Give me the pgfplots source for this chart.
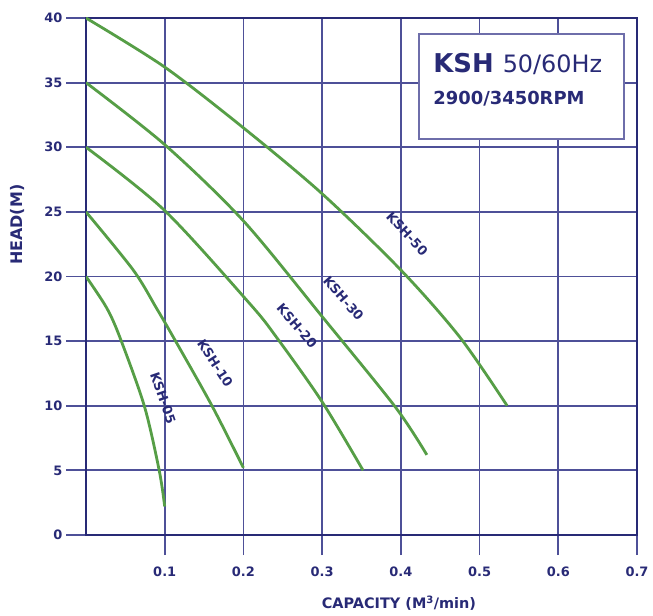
\documentclass[border=0pt]{standalone}
\usepackage{pgfplots}
\pgfplotsset{compat=1.18}
\usepackage{fontspec}
\setmainfont{DejaVu Sans}
\definecolor{navy}{RGB}{40,42,118}
\definecolor{gridc}{RGB}{78,80,152}
\definecolor{boxc}{RGB}{110,110,170}
\definecolor{curve}{RGB}{86,158,70}
\begin{document}
\begin{tikzpicture}
\begin{axis}[
    scale only axis,
    width=551bp, height=517bp,
    xmin=0, xmax=0.7, ymin=0, ymax=40,
    xtick={0.1,0.2,0.3,0.4,0.5,0.6,0.7},
    xticklabels={0.1,0.2,0.3,0.4,0.5,0.6,0.7},
    ytick={0,5,10,15,20,25,30,35,40},
    yticklabels={0,5,10,15,20,25,30,35,40},
    grid=major,
    grid style={gridc, line width=1.8bp},
    axis line style={navy, line width=2.6bp},
    tick pos=left,
    tick align=outside,
    major tick length=20bp,
    tick style={gridc, line width=1.8bp},
    ticklabel style={font=\fontsize{13}{15}\selectfont\bfseries, text=navy},
    xticklabel style={yshift=-8bp},
    xlabel={CAPACITY (M\textsuperscript{3}/min)},
    ylabel={HEAD(M)},
    xlabel style={at={(axis description cs:0.568,-0.1315)}, anchor=center,
        font=\fontsize{14.5}{16}\selectfont\bfseries, text=navy},
    ylabel style={at={(axis description cs:-0.125,0.6)}, anchor=center,
        font=\fontsize{16}{17}\selectfont\bfseries, text=navy},
]
% KSH-50
\addplot[curve, line width=2.8bp, smooth] coordinates {
    (0,40) (0.1,36.2) (0.2,31.5) (0.3,26.4) (0.4,20.5) (0.475,15.3) (0.535,10)
};
% KSH-30
\addplot[curve, line width=2.8bp, smooth] coordinates {
    (0,35) (0.1,30.2) (0.2,24.3) (0.3,16.9) (0.393,9.9) (0.433,6.2)
};
% KSH-20
\addplot[curve, line width=2.8bp, smooth] coordinates {
    (0,30) (0.1,25.1) (0.208,17.9) (0.242,15.3) (0.3,10.3) (0.352,5)
};
% KSH-10
\addplot[curve, line width=2.8bp, smooth] coordinates {
    (0,25) (0.06,20.5) (0.09,17.5) (0.111,15.3) (0.16,10) (0.2,5.2)
};
% KSH-05
\addplot[curve, line width=2.8bp, smooth] coordinates {
    (0,20) (0.026,17.6) (0.043,15.3) (0.074,10) (0.093,5) (0.1,2.2)
};
\begin{scope}[every node/.style={text=navy, inner sep=1pt, font=\fontsize{13}{14}\selectfont\bfseries}]
\node[rotate=-47] at (axis cs:0.408,23.3) {KSH-50};
\node[rotate=-49] at (axis cs:0.327,18.3) {KSH-30};
\node[rotate=-49] at (axis cs:0.268,16.2) {KSH-20};
\node[rotate=-57] at (axis cs:0.164,13.3) {KSH-10};
\node[rotate=-71] at (axis cs:0.098,10.6) {KSH-05};
\end{scope}
\draw[boxc, line width=2bp, fill=white] (axis cs:0.423,38.8) rectangle (axis cs:0.684,30.6);
\node[anchor=base west, inner sep=0, text=navy] at (axis cs:0.441,35.82)
    {\fontsize{26}{26}\selectfont\bfseries KSH \fontsize{24}{24}\selectfont\mdseries 50/60Hz};
\node[anchor=base west, inner sep=0, text=navy] at (axis cs:0.441,33.27)
    {\fontsize{18}{18}\selectfont\bfseries 2900/3450RPM};
\coordinate (sw) at (rel axis cs:0,0);
\coordinate (ne) at (rel axis cs:1,1);
\end{axis}
\pgfresetboundingbox
\path ([shift={(-86bp,-81bp)}]sw) rectangle ([shift={(16bp,18bp)}]ne);
\end{tikzpicture}
\end{document}
